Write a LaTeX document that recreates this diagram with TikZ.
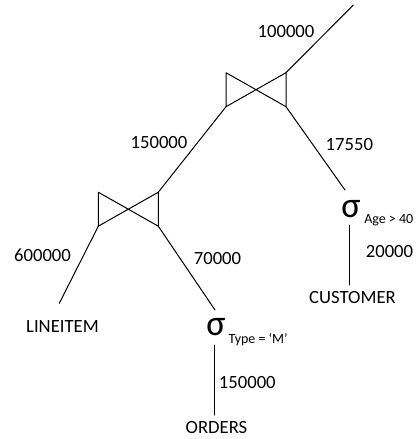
\documentclass[tikz,border=0pt]{standalone}
\usepackage{fontspec}
\setmainfont{Carlito}
\usetikzlibrary{positioning}
\tikzset{
  every picture/.style={line join=round, line cap=round},
  edge/.style={line width=0.75pt},
  bowtie/.style={line width=0.75pt},
  card/.style={font=\fontsize{14}{16}\selectfont, inner sep=0pt},
  rel/.style={font=\fontsize{14}{16}\selectfont, inner sep=0pt},
  sel/.style={font=\fontsize{27}{30}\selectfont, inner sep=0pt},
  cond/.style={font=\fontsize{10.5}{12}\selectfont, inner sep=0pt, anchor=west},
}
\begin{document}
\begin{tikzpicture}[x=0.75pt,y=-0.75pt]
\useasboundingbox (0,0) rectangle (419,439);
% join nodes
\coordinate (j1) at (256,89.7);
\coordinate (j2) at (128.3,209.2);
\foreach \j in {j1,j2}{
  \coordinate (\j tl) at ([shift={(-30,-17)}]\j);
  \coordinate (\j bl) at ([shift={(-30,17)}]\j);
  \coordinate (\j tr) at ([shift={(30,-17)}]\j);
  \coordinate (\j br) at ([shift={(30,17)}]\j);
  \draw[bowtie] (\j tl)--(\j br)--(\j tr)--(\j bl)--cycle;
}
% selections
\node[sel] (sigA) at (351,209.5) {σ};
\node[cond] (condA) at (364,220) {Age > 40};
\node[sel] (sigB) at (216,327.5) {σ};
\node[cond] (condB) at (228.3,340) {Type = ‘M’};
% relations
\node[rel] (lineitem) at (62.5,327) {LINEITEM};
\node[rel] (customer) at (352.5,298) {CUSTOMER};
\node[rel] (orders) at (216.5,428) {ORDERS};
% connector ends
\coordinate (out) at (353.3,5);
\coordinate (sigAin) at (345,190);
\coordinate (sigAout) at (349.3,225);
\coordinate (sigBin) at (215,310);
\coordinate (sigBout) at (214.3,345);
\coordinate (custin) at (349.3,285);
\coordinate (ordin) at (214.3,415);
\coordinate (lineIn) at (59.3,303.3);
% edges
\draw[edge] (j1tr) -- (out);
\draw[edge] (j1bl) -- (j2tr);
\draw[edge] (j1br) -- (sigAin);
\draw[edge] (j2bl) -- (lineIn);
\draw[edge] (j2br) -- (sigBin);
\draw[edge] (sigAout) -- (custin);
\draw[edge] (sigBout) -- (ordin);
% cardinalities
\node[card] at (286,32) {100000};
\node[card] at (159,142.7) {150000};
\node[card] at (349.3,145) {17550};
\node[card] at (42.5,255) {600000};
\node[card] at (217.5,258.3) {70000};
\node[card] at (389.5,251.7) {20000};
\node[card] at (247.3,382.7) {150000};
\end{tikzpicture}
\end{document}
